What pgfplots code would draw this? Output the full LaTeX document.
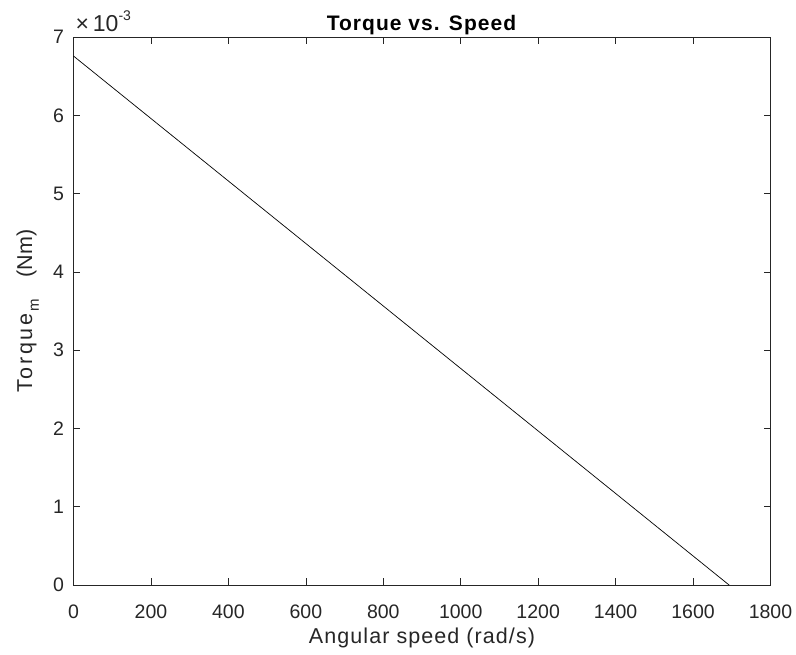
\documentclass[border=0pt]{standalone}
\usepackage{fontspec}
\setmainfont{Liberation Sans}
\usepackage{pgfplots}
\pgfplotsset{compat=1.18}
\definecolor{axgray}{RGB}{38,38,38}
\newcommand{\xlblfont}{\fontsize{21.5bp}{24bp}\selectfont\addfontfeature{LetterSpace=5}}
\newcommand{\ylblfont}{\fontsize{21.5bp}{24bp}\selectfont}
\begin{document}
\begin{tikzpicture}
  \begin{axis}[
      scale only axis, width=697bp, height=548bp,
      xmin=0, xmax=1800, ymin=0, ymax=0.007,
      xtick={0,200,...,1800}, ytick={0,0.001,...,0.007},
      scaled y ticks=base 10:3,
      /pgf/number format/1000 sep={},
      ytick scale label code/.code={\fontsize{23bp}{25bp}\selectfont\texttimes\,10\raisebox{0.9ex}{\fontsize{14bp}{16bp}\selectfont #1}},
      every y tick scale label/.style={at={(rel axis cs:0,1)}, anchor=south west,
        inner sep=0pt, xshift=8bp, yshift=5bp, text=axgray},
      /pgf/number format/assume math mode=true,
      tick label style={font=\fontsize{19.5bp}{22bp}\selectfont, text=axgray},
      tick align=inside, major tick length=7bp,
      axis line style={axgray, line width=0.6pt},
      every tick/.style={axgray, line width=0.6pt},
      xlabel={Angular speed (rad/s)},
      ylabel={{\addfontfeature{LetterSpace=12}Torque}\raisebox{-0.6ex}{\hspace{2bp}\fontsize{15bp}{17bp}\selectfont m}\hspace{22bp}(Nm)},
      title={\textbf{Torque vs. Speed}},
      xlabel style={font=\xlblfont, text=axgray, at={(axis description cs:0.5,0)},
        anchor=base, yshift=-58bp},
      ylabel style={font=\ylblfont, text=axgray, at={(axis description cs:-0.0595,0.5)},
        anchor=base},
      title style={font=\fontsize{21bp}{24bp}\selectfont\addfontfeature{LetterSpace=5}, yshift=-7bp},
      xticklabel style={anchor=base, yshift=-33bp},
      yticklabel style={xshift=-6bp},
    ]
    \addplot[black, line width=0.7pt, no marks] coordinates {(0,0.006757) (1693,0)};
  \end{axis}
  \pgfresetboundingbox
  \path (-73.5bp,-70bp) rectangle (722.5bp,585bp);
\end{tikzpicture}
\end{document}
